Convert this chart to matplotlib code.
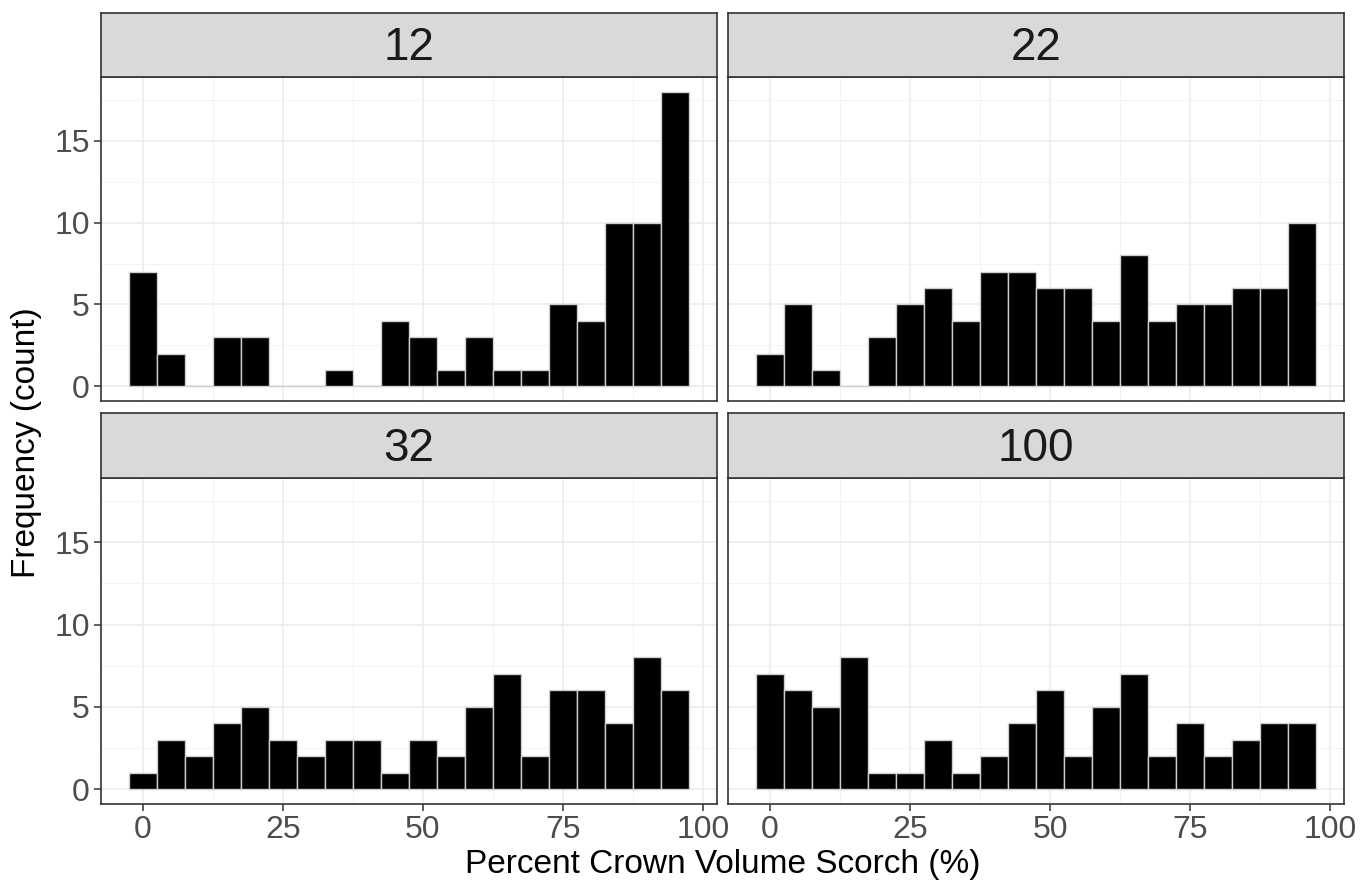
import matplotlib
matplotlib.use("Agg")
import matplotlib.pyplot as plt
import numpy as np

plt.rcParams['font.family'] = ['Liberation Sans', 'DejaVu Sans']

facets = ["12", "22", "32", "100"]
bin_centers = [0, 5, 10, 15, 20, 25, 30, 35, 40, 45, 50, 55, 60, 65, 70, 75, 80, 85, 90, 95]
counts_12 = [7, 2, 0, 3, 3, 0, 0, 1, 0, 4, 3, 1, 3, 1, 1, 5, 4, 10, 10, 18]
counts_22 = [2, 5, 1, 0, 3, 5, 6, 4, 7, 7, 6, 6, 4, 8, 4, 5, 5, 6, 6, 10]
counts_32 = [1, 3, 2, 4, 5, 3, 2, 3, 3, 1, 3, 2, 5, 7, 2, 6, 6, 4, 8, 6]
counts_100 = [7, 6, 5, 8, 1, 1, 3, 1, 2, 4, 6, 2, 5, 7, 2, 4, 2, 3, 4, 4]
all_counts = [counts_12, counts_22, counts_32, counts_100]
x_ticks = [0, 25, 50, 75, 100]
y_ticks = [0, 5, 10, 15]

W, H = 1361, 890
fig = plt.figure(figsize=(W / 100, H / 100), dpi=100)

cols = [(101, 717), (728, 1344)]
rows = [((13, 77), (77, 401)), ((413, 478), (478, 804))]

def rect(x0, x1, y0, y1):
    return [x0 / W, 1 - y1 / H, (x1 - x0) / W, (y1 - y0) / H]

ymax = max(max(c) for c in all_counts)
border = '#333333'
for i, (name, counts) in enumerate(zip(facets, all_counts)):
    r, c = divmod(i, 2)
    (sy0, sy1), (py0, py1) = rows[r]
    x0, x1 = cols[c]
    ax = fig.add_axes(rect(x0, x1, py0, py1))
    ax.bar(bin_centers, counts, width=5, color='black', edgecolor='#cfcfcf',
           linewidth=1.0, zorder=3)
    ax.set_xlim(-7.5, 102.5)
    ax.set_ylim(-0.05 * ymax, ymax * 1.05)
    ax.set_xticks(x_ticks)
    ax.set_yticks(y_ticks)
    ax.set_xticks([12.5, 37.5, 62.5, 87.5], minor=True)
    ax.set_yticks([2.5, 7.5, 12.5, 17.5], minor=True)
    ax.grid(True, which='major', color='#EBEBEB', linewidth=1.1, zorder=0)
    ax.grid(True, which='minor', color='#F3F3F3', linewidth=0.7, zorder=0)
    ax.tick_params(which='minor', length=0)
    ax.tick_params(which='major', length=5, width=1.1, color='#333333',
                   labelsize=23, labelcolor='#4D4D4D', pad=3)
    if c == 1:
        ax.tick_params(axis='y', which='major', length=0, labelleft=False)
    if r == 0:
        ax.tick_params(axis='x', which='major', length=0, labelbottom=False)
    for s in ax.spines.values():
        s.set_color(border)
        s.set_linewidth(1.2)
    # strip
    sax = fig.add_axes(rect(x0, x1, sy0, sy1))
    sax.set_facecolor('#D9D9D9')
    sax.set_xticks([])
    sax.set_yticks([])
    for s in sax.spines.values():
        s.set_color(border)
        s.set_linewidth(1.2)
    sax.text(0.5, 0.45, name, transform=sax.transAxes, ha='center', va='center',
             fontsize=33, color='#1A1A1A')

fig.text((101 + 1344) / 2 / W, 1 - 864 / H, "Percent Crown Volume Scorch (%)",
         ha='center', va='center', fontsize=24, color='black')
fig.text(27 / W, 1 - 443 / H, "Frequency (count)", ha='center', va='center',
         rotation=90, fontsize=24, color='black')

fig.savefig("out.png", dpi=100, facecolor='white')
